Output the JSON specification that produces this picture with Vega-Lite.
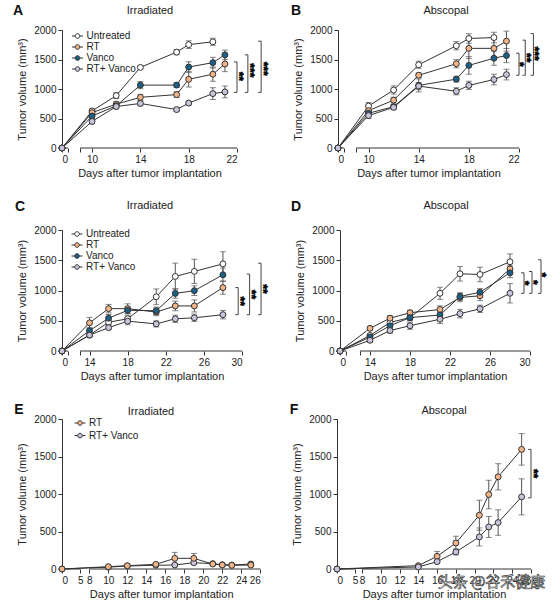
{
  "$schema": "https://vega.github.io/schema/vega-lite/v6.json",
  "background": "white",
  "padding": {"left": 12, "top": 4, "right": 2, "bottom": 2},
  "config": {
    "font": "Liberation Sans",
    "view": {"stroke": null},
    "axis": {"grid": false, "labelFontSize": 10, "titleFontSize": 11, "titleFontWeight": "normal", "labelColor": "#222", "titleColor": "#222", "domainColor": "#333", "tickColor": "#333", "tickSize": 4, "labelPadding": 2, "labelOverlap": false},
    "axisY": {"titlePadding": 6},
    "axisX": {"titlePadding": 3},
    "legend": {"title": null, "orient": "none", "symbolType": "M-1,0H-0.42M0.42,0H1M-0.42,0A0.42,0.42,0,1,1,0.42,0A0.42,0.42,0,1,1,-0.42,0Z", "symbolSize": 121, "symbolStrokeColor": "#333", "symbolStrokeWidth": 1, "symbolOpacity": 1, "labelFontSize": 10, "labelOffset": 3, "rowPadding": 0, "labelColor": "#222"}
  },
  "datasets": {
    "A": [
      {"g": "Untreated", "d": 0, "v": 0, "e": 0}, {"g": "Untreated", "d": 10, "v": 628, "e": 30}, {"g": "Untreated", "d": 12, "v": 888, "e": 50}, {"g": "Untreated", "d": 14, "v": 1366, "e": 30}, {"g": "Untreated", "d": 17, "v": 1625, "e": 45}, {"g": "Untreated", "d": 18, "v": 1752, "e": 65}, {"g": "Untreated", "d": 20, "v": 1800, "e": 60},
      {"g": "RT", "d": 0, "v": 0, "e": 0}, {"g": "RT", "d": 10, "v": 600, "e": 40}, {"g": "RT", "d": 12, "v": 743, "e": 40}, {"g": "RT", "d": 14, "v": 859, "e": 50}, {"g": "RT", "d": 17, "v": 905, "e": 50}, {"g": "RT", "d": 18, "v": 1164, "e": 130}, {"g": "RT", "d": 20, "v": 1251, "e": 120}, {"g": "RT", "d": 21, "v": 1424, "e": 130},
      {"g": "Vanco", "d": 0, "v": 0, "e": 0}, {"g": "Vanco", "d": 10, "v": 542, "e": 40}, {"g": "Vanco", "d": 12, "v": 715, "e": 40}, {"g": "Vanco", "d": 14, "v": 1066, "e": 60}, {"g": "Vanco", "d": 17, "v": 1066, "e": 40}, {"g": "Vanco", "d": 18, "v": 1372, "e": 90}, {"g": "Vanco", "d": 20, "v": 1447, "e": 90}, {"g": "Vanco", "d": 21, "v": 1579, "e": 80},
      {"g": "RT+ Vanco", "d": 0, "v": 0, "e": 0}, {"g": "RT+ Vanco", "d": 10, "v": 450, "e": 40}, {"g": "RT+ Vanco", "d": 12, "v": 703, "e": 40}, {"g": "RT+ Vanco", "d": 14, "v": 755, "e": 40}, {"g": "RT+ Vanco", "d": 17, "v": 651, "e": 30}, {"g": "RT+ Vanco", "d": 18, "v": 761, "e": 30}, {"g": "RT+ Vanco", "d": 20, "v": 922, "e": 100}, {"g": "RT+ Vanco", "d": 21, "v": 951, "e": 100}
    ],
    "B": [
      {"g": "Untreated", "d": 0, "v": 0, "e": 0}, {"g": "Untreated", "d": 10, "v": 711, "e": 60}, {"g": "Untreated", "d": 12, "v": 983, "e": 70}, {"g": "Untreated", "d": 14, "v": 1411, "e": 60}, {"g": "Untreated", "d": 17, "v": 1733, "e": 70}, {"g": "Untreated", "d": 18, "v": 1856, "e": 80}, {"g": "Untreated", "d": 20, "v": 1872, "e": 90},
      {"g": "RT", "d": 0, "v": 0, "e": 0}, {"g": "RT", "d": 10, "v": 633, "e": 50}, {"g": "RT", "d": 12, "v": 811, "e": 50}, {"g": "RT", "d": 14, "v": 1233, "e": 40}, {"g": "RT", "d": 17, "v": 1428, "e": 70}, {"g": "RT", "d": 18, "v": 1689, "e": 170}, {"g": "RT", "d": 20, "v": 1689, "e": 150}, {"g": "RT", "d": 21, "v": 1811, "e": 170},
      {"g": "Vanco", "d": 0, "v": 0, "e": 0}, {"g": "Vanco", "d": 10, "v": 589, "e": 40}, {"g": "Vanco", "d": 12, "v": 700, "e": 40}, {"g": "Vanco", "d": 14, "v": 1061, "e": 110}, {"g": "Vanco", "d": 17, "v": 1167, "e": 50}, {"g": "Vanco", "d": 18, "v": 1400, "e": 150}, {"g": "Vanco", "d": 20, "v": 1522, "e": 120}, {"g": "Vanco", "d": 21, "v": 1567, "e": 120},
      {"g": "RT+ Vanco", "d": 0, "v": 0, "e": 0}, {"g": "RT+ Vanco", "d": 10, "v": 550, "e": 50}, {"g": "RT+ Vanco", "d": 12, "v": 689, "e": 40}, {"g": "RT+ Vanco", "d": 14, "v": 1050, "e": 60}, {"g": "RT+ Vanco", "d": 17, "v": 961, "e": 60}, {"g": "RT+ Vanco", "d": 18, "v": 1061, "e": 70}, {"g": "RT+ Vanco", "d": 20, "v": 1161, "e": 90}, {"g": "RT+ Vanco", "d": 21, "v": 1244, "e": 90}
    ],
    "C": [
      {"g": "Untreated", "d": 0, "v": 0, "e": 0}, {"g": "Untreated", "d": 14, "v": 263, "e": 30}, {"g": "Untreated", "d": 16, "v": 476, "e": 40}, {"g": "Untreated", "d": 18, "v": 532, "e": 50}, {"g": "Untreated", "d": 21, "v": 896, "e": 130}, {"g": "Untreated", "d": 23, "v": 1232, "e": 220}, {"g": "Untreated", "d": 25, "v": 1316, "e": 200}, {"g": "Untreated", "d": 28, "v": 1440, "e": 200},
      {"g": "RT", "d": 0, "v": 0, "e": 0}, {"g": "RT", "d": 14, "v": 465, "e": 90}, {"g": "RT", "d": 16, "v": 700, "e": 70}, {"g": "RT", "d": 18, "v": 700, "e": 80}, {"g": "RT", "d": 21, "v": 644, "e": 60}, {"g": "RT", "d": 23, "v": 745, "e": 80}, {"g": "RT", "d": 25, "v": 745, "e": 100}, {"g": "RT", "d": 28, "v": 1048, "e": 110},
      {"g": "Vanco", "d": 0, "v": 0, "e": 0}, {"g": "Vanco", "d": 14, "v": 336, "e": 50}, {"g": "Vanco", "d": 16, "v": 543, "e": 60}, {"g": "Vanco", "d": 18, "v": 672, "e": 60}, {"g": "Vanco", "d": 21, "v": 666, "e": 60}, {"g": "Vanco", "d": 23, "v": 952, "e": 80}, {"g": "Vanco", "d": 25, "v": 997, "e": 80}, {"g": "Vanco", "d": 28, "v": 1260, "e": 110},
      {"g": "RT+ Vanco", "d": 0, "v": 0, "e": 0}, {"g": "RT+ Vanco", "d": 14, "v": 263, "e": 30}, {"g": "RT+ Vanco", "d": 16, "v": 386, "e": 30}, {"g": "RT+ Vanco", "d": 18, "v": 493, "e": 60}, {"g": "RT+ Vanco", "d": 21, "v": 448, "e": 50}, {"g": "RT+ Vanco", "d": 23, "v": 532, "e": 60}, {"g": "RT+ Vanco", "d": 25, "v": 549, "e": 60}, {"g": "RT+ Vanco", "d": 28, "v": 600, "e": 70}
    ],
    "D": [
      {"g": "Untreated", "d": 0, "v": 0, "e": 0}, {"g": "Untreated", "d": 14, "v": 257, "e": 30}, {"g": "Untreated", "d": 16, "v": 472, "e": 40}, {"g": "Untreated", "d": 18, "v": 552, "e": 50}, {"g": "Untreated", "d": 21, "v": 954, "e": 100}, {"g": "Untreated", "d": 23, "v": 1276, "e": 120}, {"g": "Untreated", "d": 25, "v": 1265, "e": 120}, {"g": "Untreated", "d": 28, "v": 1475, "e": 130},
      {"g": "RT", "d": 0, "v": 0, "e": 0}, {"g": "RT", "d": 14, "v": 375, "e": 30}, {"g": "RT", "d": 16, "v": 542, "e": 40}, {"g": "RT", "d": 18, "v": 633, "e": 40}, {"g": "RT", "d": 21, "v": 686, "e": 60}, {"g": "RT", "d": 23, "v": 885, "e": 70}, {"g": "RT", "d": 25, "v": 912, "e": 80}, {"g": "RT", "d": 28, "v": 1357, "e": 60},
      {"g": "Vanco", "d": 0, "v": 0, "e": 0}, {"g": "Vanco", "d": 14, "v": 231, "e": 30}, {"g": "Vanco", "d": 16, "v": 418, "e": 40}, {"g": "Vanco", "d": 18, "v": 552, "e": 40}, {"g": "Vanco", "d": 21, "v": 595, "e": 50}, {"g": "Vanco", "d": 23, "v": 901, "e": 60}, {"g": "Vanco", "d": 25, "v": 971, "e": 60}, {"g": "Vanco", "d": 28, "v": 1292, "e": 80},
      {"g": "RT+ Vanco", "d": 0, "v": 0, "e": 0}, {"g": "RT+ Vanco", "d": 14, "v": 177, "e": 30}, {"g": "RT+ Vanco", "d": 16, "v": 338, "e": 40}, {"g": "RT+ Vanco", "d": 18, "v": 418, "e": 60}, {"g": "RT+ Vanco", "d": 21, "v": 525, "e": 70}, {"g": "RT+ Vanco", "d": 23, "v": 617, "e": 70}, {"g": "RT+ Vanco", "d": 25, "v": 697, "e": 60}, {"g": "RT+ Vanco", "d": 28, "v": 954, "e": 160}
    ],
    "E": [
      {"g": "RT+ Vanco", "d": 0, "v": 0, "e": 0}, {"g": "RT+ Vanco", "d": 10, "v": 25, "e": 5}, {"g": "RT+ Vanco", "d": 12, "v": 40, "e": 5}, {"g": "RT+ Vanco", "d": 15, "v": 50, "e": 10}, {"g": "RT+ Vanco", "d": 17, "v": 53, "e": 15}, {"g": "RT+ Vanco", "d": 19, "v": 84, "e": 20}, {"g": "RT+ Vanco", "d": 21, "v": 71, "e": 15}, {"g": "RT+ Vanco", "d": 22, "v": 57, "e": 10}, {"g": "RT+ Vanco", "d": 23, "v": 53, "e": 10}, {"g": "RT+ Vanco", "d": 25, "v": 66, "e": 15},
      {"g": "RT", "d": 0, "v": 0, "e": 0}, {"g": "RT", "d": 10, "v": 31, "e": 8}, {"g": "RT", "d": 12, "v": 44, "e": 8}, {"g": "RT", "d": 15, "v": 62, "e": 15}, {"g": "RT", "d": 17, "v": 142, "e": 80}, {"g": "RT", "d": 19, "v": 142, "e": 65}, {"g": "RT", "d": 21, "v": 66, "e": 15}, {"g": "RT", "d": 22, "v": 53, "e": 15}, {"g": "RT", "d": 23, "v": 49, "e": 15}, {"g": "RT", "d": 25, "v": 53, "e": 20}
    ],
    "F": [
      {"g": "RT", "d": 0, "v": 0, "e": 0}, {"g": "RT", "d": 14, "v": 45, "e": 10}, {"g": "RT", "d": 16, "v": 169, "e": 65}, {"g": "RT", "d": 18, "v": 347, "e": 90}, {"g": "RT", "d": 20.5, "v": 717, "e": 200}, {"g": "RT", "d": 21.5, "v": 993, "e": 190}, {"g": "RT", "d": 22.5, "v": 1229, "e": 175}, {"g": "RT", "d": 25, "v": 1595, "e": 210},
      {"g": "RT+ Vanco", "d": 0, "v": 0, "e": 0}, {"g": "RT+ Vanco", "d": 14, "v": 27, "e": 5}, {"g": "RT+ Vanco", "d": 16, "v": 98, "e": 15}, {"g": "RT+ Vanco", "d": 18, "v": 227, "e": 40}, {"g": "RT+ Vanco", "d": 20.5, "v": 428, "e": 120}, {"g": "RT+ Vanco", "d": 21.5, "v": 561, "e": 140}, {"g": "RT+ Vanco", "d": 22.5, "v": 619, "e": 170}, {"g": "RT+ Vanco", "d": 25, "v": 962, "e": 240}
    ],
    "bA": [
      {"x": 22.0, "xc": 21.75, "y1": 1460, "y2": 943, "xs": 22.44, "ym": 1215, "s": "**"},
      {"x": 22.9, "xc": 22.65, "y1": 1579, "y2": 943, "xs": 23.35, "ym": 1316, "s": "***"},
      {"x": 24.0, "xc": 23.75, "y1": 1810, "y2": 943, "xs": 24.46, "ym": 1345, "s": "***"}
    ],
    "bB": [
      {"x": 22.0, "xc": 21.78, "y1": 1606, "y2": 1233, "xs": 22.3, "ym": 1420, "s": "*"},
      {"x": 22.5, "xc": 22.28, "y1": 1828, "y2": 1233, "xs": 22.85, "ym": 1530, "s": "**"},
      {"x": 23.15, "xc": 22.93, "y1": 1939, "y2": 1233, "xs": 23.5, "ym": 1600, "s": "***"}
    ],
    "bC": [
      {"x": 29.6, "xc": 29.3, "y1": 1048, "y2": 600, "xs": 30.15, "ym": 824, "s": "**"},
      {"x": 30.8, "xc": 30.5, "y1": 1272, "y2": 600, "xs": 31.35, "ym": 936, "s": "**"},
      {"x": 32.0, "xc": 31.7, "y1": 1451, "y2": 600, "xs": 32.55, "ym": 1025, "s": "**"}
    ],
    "bD": [
      {"x": 29.4, "xc": 29.1, "y1": 1292, "y2": 954, "xs": 29.8, "ym": 1123, "s": "*"},
      {"x": 30.2, "xc": 29.9, "y1": 1314, "y2": 954, "xs": 30.65, "ym": 1134, "s": "*"},
      {"x": 31.1, "xc": 30.8, "y1": 1507, "y2": 954, "xs": 31.5, "ym": 1260, "s": "*"}
    ],
    "bF": [
      {"x": 26.0, "xc": 25.7, "y1": 1595, "y2": 949, "xs": 26.6, "ym": 1272, "s": "**"}
    ],
    "segAB": [{"a": 0, "b": 1}, {"a": 9, "b": 22}],
    "segCD": [{"a": 0, "b": 1}, {"a": 13, "b": 30}],
    "segEF": [{"a": 0, "b": 5}, {"a": 8, "b": 26}]
  },
  "spacing": 22,
  "vconcat": [
    {
      "spacing": 20,
      "hconcat": [
        {
          "width": 175, "height": 118,
          "resolve": {"axis": {"x": "independent", "y": "independent"}},
          "layer": [
            {"data": {"name": "segAB"}, "mark": {"type": "rule", "color": "#333"},
             "encoding": {
               "x": {"field": "a", "type": "quantitative", "scale": {"domain": [0, 1, 9, 22], "range": [0, 6, 18, 175], "nice": false, "zero": false},
                     "axis": {"values": [0, 1, 9, 10, 14, 18, 22], "labelExpr": "datum.value == 1 || datum.value == 9 ? '' : datum.label", "domain": false, "title": "Days after tumor implantation"}},
               "x2": {"field": "b"},
               "y": {"datum": 0, "type": "quantitative", "scale": {"domain": [0, 2000], "nice": false}, "axis": {"values": [0, 500, 1000, 1500, 2000], "format": "d", "title": "Tumor volume (mm³)"}}
             }},
            {"data": {"name": "A"}, "mark": {"type": "line", "color": "#333", "strokeWidth": 1},
             "encoding": {"x": {"field": "d", "type": "quantitative", "axis": null}, "y": {"field": "v", "type": "quantitative", "axis": null}, "detail": {"field": "g"}}},
            {"data": {"name": "A"}, "transform": [{"filter": "datum.d > 0"}], "mark": {"type": "errorbar", "color": "#555", "ticks": {"size": 6}},
             "encoding": {"x": {"field": "d", "type": "quantitative", "axis": null}, "y": {"field": "v", "type": "quantitative", "axis": null}, "yError": {"field": "e"}}},
            {"data": {"name": "A"}, "mark": {"type": "circle", "size": 35, "stroke": "#333", "strokeWidth": 1, "opacity": 1},
             "encoding": {"x": {"field": "d", "type": "quantitative", "axis": null}, "y": {"field": "v", "type": "quantitative", "axis": null},
               "fill": {"field": "g", "type": "nominal", "scale": {"domain": ["Untreated", "RT", "Vanco", "RT+ Vanco"], "range": ["#ffffff", "#f2b58a", "#1d5f85", "#cbc3dc"]}, "legend": {"legendX": 9.5, "legendY": 0}}}},
            {"data": {"name": "bA"}, "mark": {"type": "rule", "color": "#444"}, "encoding": {"x": {"field": "x", "type": "quantitative", "axis": null}, "y": {"field": "y1", "type": "quantitative", "axis": null}, "y2": {"field": "y2"}}},
            {"data": {"name": "bA"}, "mark": {"type": "rule", "color": "#444"}, "encoding": {"x": {"field": "xc", "type": "quantitative", "axis": null}, "x2": {"field": "x"}, "y": {"field": "y1", "type": "quantitative", "axis": null}}},
            {"data": {"name": "bA"}, "mark": {"type": "rule", "color": "#444"}, "encoding": {"x": {"field": "xc", "type": "quantitative", "axis": null}, "x2": {"field": "x"}, "y": {"field": "y2", "type": "quantitative", "axis": null}}},
            {"data": {"name": "bA"}, "mark": {"type": "text", "angle": 89.9, "fontSize": 12, "fontWeight": "bold", "align": "center", "baseline": "middle", "dy": 3, "fill": "#000", "stroke": "#000", "strokeWidth": 0.5}, "encoding": {"x": {"field": "xs", "type": "quantitative", "axis": null}, "y": {"field": "ym", "type": "quantitative", "axis": null}, "text": {"field": "s"}}},
            {"data": {"values": [{"t": "A"}]}, "mark": {"type": "text", "fontSize": 14, "fontWeight": "bold", "x": -44, "y": -19, "baseline": "middle", "fill": "#111"}, "encoding": {"text": {"field": "t"}}},
            {"data": {"values": [{"t": "Irradiated"}]}, "mark": {"type": "text", "fontSize": 11, "x": 88, "y": -19, "baseline": "middle", "fill": "#222"}, "encoding": {"text": {"field": "t"}}}
          ]
        },
        {
          "width": 181, "height": 118,
          "resolve": {"axis": {"x": "independent", "y": "independent"}},
          "layer": [
            {"data": {"name": "segAB"}, "mark": {"type": "rule", "color": "#333"},
             "encoding": {
               "x": {"field": "a", "type": "quantitative", "scale": {"domain": [0, 1, 9, 22], "range": [0, 6, 18, 181], "nice": false, "zero": false},
                     "axis": {"values": [0, 1, 9, 10, 14, 18, 22], "labelExpr": "datum.value == 1 || datum.value == 9 ? '' : datum.label", "domain": false, "title": "Days after tumor implantation"}},
               "x2": {"field": "b"},
               "y": {"datum": 0, "type": "quantitative", "scale": {"domain": [0, 2000], "nice": false}, "axis": {"values": [0, 500, 1000, 1500, 2000], "format": "d", "title": "Tumor volume (mm³)"}}
             }},
            {"data": {"name": "B"}, "mark": {"type": "line", "color": "#333", "strokeWidth": 1},
             "encoding": {"x": {"field": "d", "type": "quantitative", "axis": null}, "y": {"field": "v", "type": "quantitative", "axis": null}, "detail": {"field": "g"}}},
            {"data": {"name": "B"}, "transform": [{"filter": "datum.d > 0"}], "mark": {"type": "errorbar", "color": "#555", "ticks": {"size": 6}},
             "encoding": {"x": {"field": "d", "type": "quantitative", "axis": null}, "y": {"field": "v", "type": "quantitative", "axis": null}, "yError": {"field": "e"}}},
            {"data": {"name": "B"}, "mark": {"type": "circle", "size": 35, "stroke": "#333", "strokeWidth": 1, "opacity": 1},
             "encoding": {"x": {"field": "d", "type": "quantitative", "axis": null}, "y": {"field": "v", "type": "quantitative", "axis": null},
               "fill": {"field": "g", "type": "nominal", "scale": {"domain": ["Untreated", "RT", "Vanco", "RT+ Vanco"], "range": ["#ffffff", "#f2b58a", "#1d5f85", "#cbc3dc"]}, "legend": {"legendX": 4.5, "legendY": -5}}}},
            {"data": {"name": "bB"}, "mark": {"type": "rule", "color": "#444"}, "encoding": {"x": {"field": "x", "type": "quantitative", "axis": null}, "y": {"field": "y1", "type": "quantitative", "axis": null}, "y2": {"field": "y2"}}},
            {"data": {"name": "bB"}, "mark": {"type": "rule", "color": "#444"}, "encoding": {"x": {"field": "xc", "type": "quantitative", "axis": null}, "x2": {"field": "x"}, "y": {"field": "y1", "type": "quantitative", "axis": null}}},
            {"data": {"name": "bB"}, "mark": {"type": "rule", "color": "#444"}, "encoding": {"x": {"field": "xc", "type": "quantitative", "axis": null}, "x2": {"field": "x"}, "y": {"field": "y2", "type": "quantitative", "axis": null}}},
            {"data": {"name": "bB"}, "mark": {"type": "text", "angle": 89.9, "fontSize": 12, "fontWeight": "bold", "align": "center", "baseline": "middle", "dy": 3, "fill": "#000", "stroke": "#000", "strokeWidth": 0.5}, "encoding": {"x": {"field": "xs", "type": "quantitative", "axis": null}, "y": {"field": "ym", "type": "quantitative", "axis": null}, "text": {"field": "s"}}},
            {"data": {"values": [{"t": "B"}]}, "mark": {"type": "text", "fontSize": 14, "fontWeight": "bold", "x": -42, "y": -19, "baseline": "middle", "fill": "#111"}, "encoding": {"text": {"field": "t"}}},
            {"data": {"values": [{"t": "Abscopal"}]}, "mark": {"type": "text", "fontSize": 11, "x": 108, "y": -19, "baseline": "middle", "fill": "#222"}, "encoding": {"text": {"field": "t"}}}
          ]
        }
      ]
    },
    {
      "spacing": 20,
      "hconcat": [
        {
          "width": 180, "height": 121,
          "resolve": {"axis": {"x": "independent", "y": "independent"}},
          "layer": [
            {"data": {"name": "segCD"}, "mark": {"type": "rule", "color": "#333"},
             "encoding": {
               "x": {"field": "a", "type": "quantitative", "scale": {"domain": [0, 1, 13, 30], "range": [0, 6, 18, 180], "nice": false, "zero": false},
                     "axis": {"values": [0, 1, 13, 14, 18, 22, 26, 30], "labelExpr": "datum.value == 1 || datum.value == 13 ? '' : datum.label", "domain": false, "title": "Days after tumor implantation"}},
               "x2": {"field": "b"},
               "y": {"datum": 0, "type": "quantitative", "scale": {"domain": [0, 2000], "nice": false}, "axis": {"values": [0, 500, 1000, 1500, 2000], "format": "d", "title": "Tumor volume (mm³)"}}
             }},
            {"data": {"name": "C"}, "mark": {"type": "line", "color": "#333", "strokeWidth": 1},
             "encoding": {"x": {"field": "d", "type": "quantitative", "axis": null}, "y": {"field": "v", "type": "quantitative", "axis": null}, "detail": {"field": "g"}}},
            {"data": {"name": "C"}, "transform": [{"filter": "datum.d > 0"}], "mark": {"type": "errorbar", "color": "#555", "ticks": {"size": 6}},
             "encoding": {"x": {"field": "d", "type": "quantitative", "axis": null}, "y": {"field": "v", "type": "quantitative", "axis": null}, "yError": {"field": "e"}}},
            {"data": {"name": "C"}, "mark": {"type": "circle", "size": 35, "stroke": "#333", "strokeWidth": 1, "opacity": 1},
             "encoding": {"x": {"field": "d", "type": "quantitative", "axis": null}, "y": {"field": "v", "type": "quantitative", "axis": null},
               "fill": {"field": "g", "type": "nominal", "scale": {"domain": ["Untreated", "RT", "Vanco", "RT+ Vanco"], "range": ["#ffffff", "#f2b58a", "#1d5f85", "#cbc3dc"]}, "legend": {"legendX": 9, "legendY": -2}}}},
            {"data": {"name": "bC"}, "mark": {"type": "rule", "color": "#444"}, "encoding": {"x": {"field": "x", "type": "quantitative", "axis": null}, "y": {"field": "y1", "type": "quantitative", "axis": null}, "y2": {"field": "y2"}}},
            {"data": {"name": "bC"}, "mark": {"type": "rule", "color": "#444"}, "encoding": {"x": {"field": "xc", "type": "quantitative", "axis": null}, "x2": {"field": "x"}, "y": {"field": "y1", "type": "quantitative", "axis": null}}},
            {"data": {"name": "bC"}, "mark": {"type": "rule", "color": "#444"}, "encoding": {"x": {"field": "xc", "type": "quantitative", "axis": null}, "x2": {"field": "x"}, "y": {"field": "y2", "type": "quantitative", "axis": null}}},
            {"data": {"name": "bC"}, "mark": {"type": "text", "angle": 89.9, "fontSize": 12, "fontWeight": "bold", "align": "center", "baseline": "middle", "dy": 3, "fill": "#000", "stroke": "#000", "strokeWidth": 0.5}, "encoding": {"x": {"field": "xs", "type": "quantitative", "axis": null}, "y": {"field": "ym", "type": "quantitative", "axis": null}, "text": {"field": "s"}}},
            {"data": {"values": [{"t": "C"}]}, "mark": {"type": "text", "fontSize": 14, "fontWeight": "bold", "x": -42, "y": -23, "baseline": "middle", "fill": "#111"}, "encoding": {"text": {"field": "t"}}},
            {"data": {"values": [{"t": "Irradiated"}]}, "mark": {"type": "text", "fontSize": 11, "x": 88, "y": -24, "baseline": "middle", "fill": "#222"}, "encoding": {"text": {"field": "t"}}}
          ]
        },
        {
          "width": 190, "height": 121,
          "resolve": {"axis": {"x": "independent", "y": "independent"}},
          "layer": [
            {"data": {"name": "segCD"}, "mark": {"type": "rule", "color": "#333"},
             "encoding": {
               "x": {"field": "a", "type": "quantitative", "scale": {"domain": [0, 1, 13, 30], "range": [0, 6, 20, 190], "nice": false, "zero": false},
                     "axis": {"values": [0, 1, 13, 14, 18, 22, 26, 30], "labelExpr": "datum.value == 1 || datum.value == 13 ? '' : datum.label", "domain": false, "title": "Days after tumor implantation"}},
               "x2": {"field": "b"},
               "y": {"datum": 0, "type": "quantitative", "scale": {"domain": [0, 2000], "nice": false}, "axis": {"values": [0, 500, 1000, 1500, 2000], "format": "d", "title": "Tumor volume (mm³)"}}
             }},
            {"data": {"name": "D"}, "mark": {"type": "line", "color": "#333", "strokeWidth": 1},
             "encoding": {"x": {"field": "d", "type": "quantitative", "axis": null}, "y": {"field": "v", "type": "quantitative", "axis": null}, "detail": {"field": "g"}}},
            {"data": {"name": "D"}, "transform": [{"filter": "datum.d > 0"}], "mark": {"type": "errorbar", "color": "#555", "ticks": {"size": 6}},
             "encoding": {"x": {"field": "d", "type": "quantitative", "axis": null}, "y": {"field": "v", "type": "quantitative", "axis": null}, "yError": {"field": "e"}}},
            {"data": {"name": "D"}, "mark": {"type": "circle", "size": 35, "stroke": "#333", "strokeWidth": 1, "opacity": 1},
             "encoding": {"x": {"field": "d", "type": "quantitative", "axis": null}, "y": {"field": "v", "type": "quantitative", "axis": null},
               "fill": {"field": "g", "type": "nominal", "scale": {"domain": ["Untreated", "RT", "Vanco", "RT+ Vanco"], "range": ["#ffffff", "#f2b58a", "#1d5f85", "#cbc3dc"]}, "legend": {"legendX": 7.5, "legendY": -7}}}},
            {"data": {"name": "bD"}, "mark": {"type": "rule", "color": "#444"}, "encoding": {"x": {"field": "x", "type": "quantitative", "axis": null}, "y": {"field": "y1", "type": "quantitative", "axis": null}, "y2": {"field": "y2"}}},
            {"data": {"name": "bD"}, "mark": {"type": "rule", "color": "#444"}, "encoding": {"x": {"field": "xc", "type": "quantitative", "axis": null}, "x2": {"field": "x"}, "y": {"field": "y1", "type": "quantitative", "axis": null}}},
            {"data": {"name": "bD"}, "mark": {"type": "rule", "color": "#444"}, "encoding": {"x": {"field": "xc", "type": "quantitative", "axis": null}, "x2": {"field": "x"}, "y": {"field": "y2", "type": "quantitative", "axis": null}}},
            {"data": {"name": "bD"}, "mark": {"type": "text", "angle": 89.9, "fontSize": 12, "fontWeight": "bold", "align": "center", "baseline": "middle", "dy": 3, "fill": "#000", "stroke": "#000", "strokeWidth": 0.5}, "encoding": {"x": {"field": "xs", "type": "quantitative", "axis": null}, "y": {"field": "ym", "type": "quantitative", "axis": null}, "text": {"field": "s"}}},
            {"data": {"values": [{"t": "D"}]}, "mark": {"type": "text", "fontSize": 14, "fontWeight": "bold", "x": -44, "y": -23, "baseline": "middle", "fill": "#111"}, "encoding": {"text": {"field": "t"}}},
            {"data": {"values": [{"t": "Abscopal"}]}, "mark": {"type": "text", "fontSize": 11, "x": 106, "y": -24, "baseline": "middle", "fill": "#222"}, "encoding": {"text": {"field": "t"}}}
          ]
        }
      ]
    },
    {
      "spacing": 28,
      "hconcat": [
        {
          "width": 198, "height": 150,
          "resolve": {"axis": {"x": "independent", "y": "independent"}},
          "layer": [
            {"data": {"name": "segEF"}, "mark": {"type": "rule", "color": "#333"},
             "encoding": {
               "x": {"field": "a", "type": "quantitative", "scale": {"domain": [0, 5, 8, 26], "range": [0, 18.3, 27.3, 198.3], "nice": false, "zero": false},
                     "axis": {"values": [0, 5, 8, 10, 12, 14, 16, 18, 20, 22, 24, 26], "domain": false, "title": "Days after tumor implantation"}},
               "x2": {"field": "b"},
               "y": {"datum": 0, "type": "quantitative", "scale": {"domain": [0, 2000], "nice": false}, "axis": {"values": [0, 500, 1000, 1500, 2000], "format": "d", "title": "Tumor volume (mm³)"}}
             }},
            {"data": {"name": "E"}, "mark": {"type": "line", "color": "#333", "strokeWidth": 1},
             "encoding": {"x": {"field": "d", "type": "quantitative", "axis": null}, "y": {"field": "v", "type": "quantitative", "axis": null}, "detail": {"field": "g"}}},
            {"data": {"name": "E"}, "transform": [{"filter": "datum.d > 0"}], "mark": {"type": "errorbar", "color": "#555", "ticks": {"size": 6}},
             "encoding": {"x": {"field": "d", "type": "quantitative", "axis": null}, "y": {"field": "v", "type": "quantitative", "axis": null}, "yError": {"field": "e"}}},
            {"data": {"name": "E"}, "mark": {"type": "circle", "size": 35, "stroke": "#333", "strokeWidth": 1, "opacity": 1},
             "encoding": {"x": {"field": "d", "type": "quantitative", "axis": null}, "y": {"field": "v", "type": "quantitative", "axis": null},
               "fill": {"field": "g", "type": "nominal", "scale": {"domain": ["RT", "RT+ Vanco"], "range": ["#f2b58a", "#cbc3dc"]}, "legend": {"legendX": 12, "legendY": -2, "rowPadding": 1.6}}}},
            {"data": {"values": [{"t": "E"}]}, "mark": {"type": "text", "fontSize": 14, "fontWeight": "bold", "x": -43, "y": -9, "baseline": "middle", "fill": "#111"}, "encoding": {"text": {"field": "t"}}},
            {"data": {"values": [{"t": "Irradiated"}]}, "mark": {"type": "text", "fontSize": 11, "x": 89, "y": -7, "baseline": "middle", "fill": "#222"}, "encoding": {"text": {"field": "t"}}}
          ]
        },
        {
          "width": 194, "height": 150,
          "resolve": {"axis": {"x": "independent", "y": "independent"}},
          "layer": [
            {"data": {"name": "segEF"}, "mark": {"type": "rule", "color": "#333"},
             "encoding": {
               "x": {"field": "a", "type": "quantitative", "scale": {"domain": [0, 5, 8, 26], "range": [0, 18, 25, 194], "nice": false, "zero": false},
                     "axis": {"values": [0, 5, 8, 10, 12, 14, 16, 18, 20, 22, 24, 26], "domain": false, "title": "Days after tumor implantation"}},
               "x2": {"field": "b"},
               "y": {"datum": 0, "type": "quantitative", "scale": {"domain": [0, 2000], "nice": false}, "axis": {"values": [0, 500, 1000, 1500, 2000], "format": "d", "title": "Tumor volume (mm³)"}}
             }},
            {"data": {"name": "F"}, "mark": {"type": "line", "color": "#333", "strokeWidth": 1},
             "encoding": {"x": {"field": "d", "type": "quantitative", "axis": null}, "y": {"field": "v", "type": "quantitative", "axis": null}, "detail": {"field": "g"}}},
            {"data": {"name": "F"}, "transform": [{"filter": "datum.d > 0"}], "mark": {"type": "errorbar", "color": "#555", "ticks": {"size": 6}},
             "encoding": {"x": {"field": "d", "type": "quantitative", "axis": null}, "y": {"field": "v", "type": "quantitative", "axis": null}, "yError": {"field": "e"}}},
            {"data": {"name": "F"}, "mark": {"type": "circle", "size": 35, "stroke": "#333", "strokeWidth": 1, "opacity": 1},
             "encoding": {"x": {"field": "d", "type": "quantitative", "axis": null}, "y": {"field": "v", "type": "quantitative", "axis": null},
               "fill": {"field": "g", "type": "nominal", "scale": {"domain": ["RT", "RT+ Vanco"], "range": ["#f2b58a", "#cbc3dc"]}, "legend": {"legendX": 9.5, "legendY": 2, "rowPadding": 2.3}}}},
            {"data": {"name": "bF"}, "mark": {"type": "rule", "color": "#444"}, "encoding": {"x": {"field": "x", "type": "quantitative", "axis": null}, "y": {"field": "y1", "type": "quantitative", "axis": null}, "y2": {"field": "y2"}}},
            {"data": {"name": "bF"}, "mark": {"type": "rule", "color": "#444"}, "encoding": {"x": {"field": "xc", "type": "quantitative", "axis": null}, "x2": {"field": "x"}, "y": {"field": "y1", "type": "quantitative", "axis": null}}},
            {"data": {"name": "bF"}, "mark": {"type": "rule", "color": "#444"}, "encoding": {"x": {"field": "xc", "type": "quantitative", "axis": null}, "x2": {"field": "x"}, "y": {"field": "y2", "type": "quantitative", "axis": null}}},
            {"data": {"name": "bF"}, "mark": {"type": "text", "angle": 89.9, "fontSize": 12, "fontWeight": "bold", "align": "center", "baseline": "middle", "dy": 3, "fill": "#000", "stroke": "#000", "strokeWidth": 0.5}, "encoding": {"x": {"field": "xs", "type": "quantitative", "axis": null}, "y": {"field": "ym", "type": "quantitative", "axis": null}, "text": {"field": "s"}}},
            {"data": {"values": [{"w": "头条 @谷禾健康", "x": 21.8, "y": -173}]}, "mark": {"type": "text", "font": "Noto Sans CJK SC", "fontSize": 15, "fill": "#ffffff", "stroke": "#444", "strokeWidth": 0.7, "baseline": "middle"}, "encoding": {"x": {"field": "x", "type": "quantitative", "axis": null}, "y": {"field": "y", "type": "quantitative", "axis": null}, "text": {"field": "w"}}},
            {"data": {"values": [{"t": "F"}]}, "mark": {"type": "text", "fontSize": 14, "fontWeight": "bold", "x": -43, "y": -9, "baseline": "middle", "fill": "#111"}, "encoding": {"text": {"field": "t"}}},
            {"data": {"values": [{"t": "Abscopal"}]}, "mark": {"type": "text", "fontSize": 11, "x": 107, "y": -8, "baseline": "middle", "fill": "#222"}, "encoding": {"text": {"field": "t"}}}
          ]
        }
      ]
    }
  ],
  "resolve": {"scale": {"fill": "independent", "x": "independent", "y": "independent"}, "legend": {"fill": "independent"}}
}
